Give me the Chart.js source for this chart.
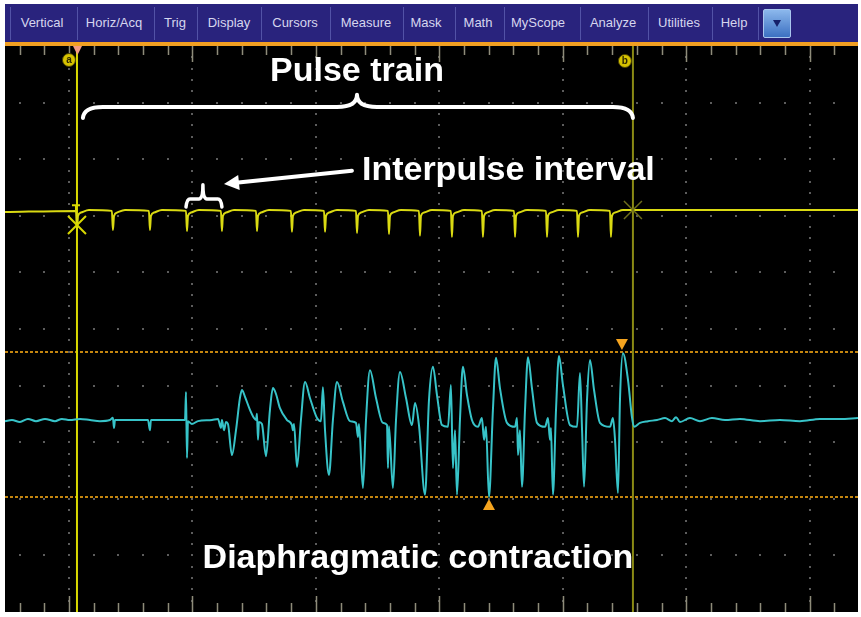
<!DOCTYPE html>
<html>
<head>
<meta charset="utf-8">
<script src="https://cdn.jsdelivr.net/npm/chart.js@4.4.1/dist/chart.umd.min.js"></script>
<style>
  html, body { margin: 0; padding: 0; background: #fff; }
  #wrap { position: relative; width: 861px; height: 617px; overflow: hidden; }
  #scope { position: absolute; left: 0; top: 0; }
  #menu { position: absolute; left: 5px; top: 4px; width: 853px; height: 38px; background: #29237d;
          font-family: "Liberation Sans", Arial, sans-serif; font-size: 13px; color: #d6d6ee; }
  #menu .item { position: absolute; top: 0; line-height: 38px; transform: translateX(-50%); white-space: nowrap; }
  #menu .sep { position: absolute; top: 3px; width: 1px; height: 33px; background: #5252a6; }
  #menu .btn { position: absolute; left: 758px; top: 5px; width: 28px; height: 29px; border: 1px solid #a9c6ee;
               border-radius: 2px; background: linear-gradient(#8cb8ec, #3c70c2); box-sizing: border-box; }
  #menu .btn::after { content: ""; position: absolute; left: 9px; top: 10px; border-left: 4px solid transparent;
                      border-right: 4px solid transparent; border-top: 7px solid #16206a; }
  #orange { position: absolute; left: 5px; top: 42px; width: 853px; height: 4px; background: #f19f22; }
</style>
</head>
<body>
<div id="wrap">
  <canvas id="scope" width="861" height="617"></canvas>
  <div id="menu"></div>
  <div id="orange"></div>
</div>
<script>
// time in ms (100 ms / division), levels in 0.1 division from each channel's baseline
const CURSOR_A = 6.5;
const CURSOR_B = 456.8;
const HBAR_TOP = 12.0;
const HBAR_BOTTOM = -13.6;

// stimulation channel (yellow)
const yellowTime = [
  -51.8,
  5.7, 6.5, 7.3, 9.7, 16.2,
  34.8, 35.6, 36.5, 38.9, 45.4,
  64.8, 65.6, 66.4, 68.9, 75.3,
  94.8, 95.6, 96.4, 98.8, 105.3,
  123.1, 123.9, 124.7, 127.2, 133.7,
  151.5, 152.3, 153.1, 155.5, 162.0,
  179.8, 180.6, 181.4, 183.9, 190.4,
  206.6, 207.4, 208.2, 210.6, 217.1,
  232.5, 233.3, 234.1, 236.5, 243.0,
  258.4, 259.2, 260.0, 262.4, 268.9,
  283.5, 284.3, 285.1, 287.6, 294.0,
  309.4, 310.2, 311.0, 313.5, 320.0,
  334.5, 335.3, 336.2, 338.6, 345.1,
  360.5, 361.3, 362.1, 364.5, 371.0,
  386.4, 387.2, 388.0, 390.4, 396.9,
  411.5, 412.3, 413.1, 415.5, 422.0,
  438.2, 439.0, 439.8, 442.3, 448.7,
  456.8, 639.1
];
const yellowLevel = [
  0,
  0.2, -3.2, -0.7, -0.1, 0.35,
  0.2, -3.2, -0.7, -0.1, 0.35,
  0.2, -3.2, -0.7, -0.1, 0.35,
  0.2, -3.4, -0.7, -0.1, 0.35,
  0.2, -3.4, -0.7, -0.1, 0.35,
  0.2, -3.4, -0.7, -0.1, 0.35,
  0.2, -3.5, -0.7, -0.1, 0.35,
  0.2, -3.5, -0.7, -0.1, 0.35,
  0.2, -3.7, -0.7, -0.1, 0.35,
  0.2, -3.9, -0.7, -0.1, 0.35,
  0.2, -4.2, -0.7, -0.1, 0.35,
  0.2, -4.4, -0.7, -0.1, 0.35,
  0.2, -4.4, -0.7, -0.1, 0.35,
  0.2, -4.4, -0.7, -0.1, 0.35,
  0.2, -4.4, -0.7, -0.1, 0.35,
  0.2, -4.4, -0.7, -0.1, 0.35,
  0.2, -4.4, -0.7, -0.1, 0.35,
  0.35, 0.35
];

// diaphragm EMG channel (cyan)
const cyanTime = [
  -51.8, -46.2, -39.7, -33.2, -26.7, -19.4, -11.3, -5.7, 0.8, 8.9,
  17.0, 25.1, 33.2, 35.6, 36.5, 37.3, 49.4, 64.0, 65.6, 66.4,
  81.8, 94.0, 94.8, 95.6, 96.4, 99.6, 104.5, 115.8, 120.7, 123.1,
  123.9, 125.6, 127.2, 128.8, 132.0, 135.3, 138.5, 140.1, 142.6, 146.6,
  149.9, 151.5, 152.3, 153.1, 153.9, 156.3, 159.6, 162.8, 165.2, 167.7,
  170.9, 176.6, 180.6, 181.4, 182.3, 184.7, 187.9, 191.2, 195.2, 200.9,
  204.1, 205.7, 207.4, 210.6, 213.8, 217.1, 221.9, 227.6, 232.5, 234.1,
  234.9, 238.1, 240.6, 243.8, 248.7, 254.3, 257.6, 258.4, 259.2, 262.4,
  264.9, 268.1, 273.0, 277.8, 280.3, 283.5, 288.4, 291.6, 294.8, 298.1,
  302.1, 307.0, 309.4, 311.0, 312.7, 314.3, 316.7, 319.1, 322.4, 326.4,
  331.3, 334.5, 336.2, 337.8, 340.2, 343.4, 345.9, 349.1, 354.8, 361.3,
  362.9, 363.7, 365.3, 366.9, 369.4, 371.8, 375.0, 379.1, 385.6, 388.0,
  389.6, 390.4, 392.0, 394.5, 396.9, 400.1, 405.8, 411.5, 413.9, 415.6,
  417.2, 419.6, 422.0, 425.3, 430.1, 438.2, 440.6, 442.3, 444.7, 446.3,
  448.7, 452.8, 456.0, 457.7, 462.5, 469.0, 476.3, 482.8, 488.4, 491.7,
  494.9, 503.0, 511.1, 520.8, 531.4, 543.5, 559.7, 575.9, 592.1, 608.3,
  624.5, 639.1
];
const cyanLevel = [
  -0.2, 0, -0.35, 0.2, -0.2, 0.2, -0.2, 0.2, 0, 0.2,
  0, -0.2, 0, 0.4, -1.4, 0, 0, 0, -1.8, 0,
  0, 0, 4.95, -6.7, -0.2, -0.7, -0.2, 0, 0.2, -1.4,
  0, -1.8, -0.35, -0.7, -6.2, -1.8, 3.9, 5.3, 4.1, 1.8,
  0.35, 0, 1.1, -3.5, -0.35, -0.7, -6.4, 1.8, 5.65, 4.6,
  2.1, 0, -0.9, -1.8, -0.7, -8.3, 0, 6.7, 3.9, 0.35,
  -0.2, 5.8, -1.8, -9.7, 0, 6.7, 3.2, -0.2, -0.5, -3.0,
  -0.7, -12.0, 0, 8.8, 3.9, -0.5, -0.9, -8.5, -1.1, -12.0,
  0, 8.5, 3.9, -0.9, 3.0, -0.9, -13.2, 3.5, 9.4, 4.4,
  -0.9, -1.2, 6.2, -8.5, -1.8, -13.2, 0, 9.4, 4.4, 0,
  -1.2, 0.35, -3.5, -1.2, -13.6, 1.8, 11.0, 5.65, -0.5, -1.2,
  0.35, -6.2, -1.8, -11.8, 1.8, 11.1, 5.65, -0.5, -1.2, 0.35,
  -3.5, -1.4, -13.2, 1.8, 11.3, 6.2, -0.9, -1.2, 8.3, -1.8,
  -11.8, 3.5, 10.6, 5.3, -0.5, -1.2, 0.35, -3.5, -12.9, 3.5,
  11.8, 7.1, 0.5, -1.2, -0.5, -0.2, 0, 0.35, -0.2, 0.5,
  -0.35, 0.35, -0.2, 0.35, 0, 0.2, -0.2, 0, -0.2, 0.2,
  0.2, 0.35
];

const MENU = ["Vertical", "Horiz/Acq", "Trig", "Display", "Cursors", "Measure",
              "Mask", "Math", "MyScope", "Analyze", "Utilities", "Help"];
const MENU_X = [37, 109, 170, 224, 290, 361, 421, 473, 533, 608, 674, 729];
const MENU_SEP = [5, 72, 149, 192, 256, 325, 398, 450, 499, 575, 643, 707, 753];

/* ===== MENU BAR ===== */
function buildMenu() {
  const menu = document.getElementById("menu");
  MENU_SEP.forEach(x => {
    const s = document.createElement("i");
    s.className = "sep";
    s.style.left = x + "px";
    menu.appendChild(s);
  });
  MENU.forEach((label, i) => {
    const s = document.createElement("span");
    s.className = "item";
    s.style.left = MENU_X[i] + "px";
    s.textContent = label;
    menu.appendChild(s);
  });
  const b = document.createElement("div");
  b.className = "btn";
  menu.appendChild(b);
}

/* ===== SCREEN DECORATION ===== */
const FONT = '"Liberation Sans", Arial, sans-serif';

function drawBrace(ctx, x1, x2, xm, yEnd, yLine, yTip, r) {
  ctx.beginPath();
  ctx.moveTo(x1, yEnd);
  ctx.quadraticCurveTo(x1 + 1, yLine, x1 + r, yLine);
  ctx.lineTo(xm - r, yLine);
  ctx.quadraticCurveTo(xm, yLine, xm, yTip);
  ctx.quadraticCurveTo(xm, yLine, xm + r, yLine);
  ctx.lineTo(x2 - r, yLine);
  ctx.quadraticCurveTo(x2 - 1, yLine, x2, yEnd);
  ctx.stroke();
}

function drawX(ctx, x, y, s) {
  ctx.beginPath();
  ctx.moveTo(x - s, y - s); ctx.lineTo(x + s, y + s);
  ctx.moveTo(x + s, y - s); ctx.lineTo(x - s, y + s);
  ctx.stroke();
}

function drawTri(ctx, x, yTip, h, w) {
  ctx.beginPath();
  ctx.moveTo(x, yTip);
  ctx.lineTo(x - w, yTip - h);
  ctx.lineTo(x + w, yTip - h);
  ctx.closePath();
  ctx.fill();
}

function drawBadge(ctx, x, y, letter) {
  ctx.beginPath();
  ctx.arc(x, y, 6.5, 0, Math.PI * 2);
  ctx.fillStyle = "#d6c200";
  ctx.fill();
  ctx.lineWidth = 1;
  ctx.strokeStyle = "#4a4200";
  ctx.stroke();
  ctx.fillStyle = "#2c2600";
  ctx.font = "bold 10px " + FONT;
  ctx.textAlign = "center";
  ctx.textBaseline = "middle";
  ctx.fillText(letter, x, y + 0.5);
}

const scopePlugin = {
  id: "scope",
  beforeDraw(chart) {
    const { ctx, chartArea: a, scales } = chart;
    const xs = scales.x, yg = scales.yG;
    ctx.save();
    ctx.fillStyle = "#ffffff";
    ctx.fillRect(0, 0, chart.width, chart.height);
    ctx.fillStyle = "#000000";
    ctx.fillRect(a.left, a.top, a.right - a.left, a.bottom - a.top);

    // graticule dots
    ctx.fillStyle = "#5c5c5c";
    for (let d = 0; d <= 600; d += 100) {
      const px = Math.round(xs.getPixelForValue(d));
      for (let k = -24; k <= 24; k++) {
        const py = Math.round(yg.getPixelForValue(k / 5));
        ctx.fillRect(px - 1, py - 1, 2, 2);
      }
    }
    for (let r = -4; r <= 4; r++) {
      const py = Math.round(yg.getPixelForValue(r));
      for (let t = -40; t <= 640; t += 20) {
        const px = Math.round(xs.getPixelForValue(t));
        if (px < a.left || px > a.right) continue;
        ctx.fillRect(px - 1, py - 1, 2, 2);
      }
    }

    // edge ticks
    ctx.strokeStyle = "#8e8c7a";
    ctx.lineWidth = 1.5;
    ctx.beginPath();
    for (let t = -40; t <= 640; t += 20) {
      const px = Math.round(xs.getPixelForValue(t)) + 0.5;
      if (px < a.left || px > a.right) continue;
      const len = t % 100 === 0 ? 16 : 9;
      ctx.moveTo(px, a.top); ctx.lineTo(px, a.top + len);
      ctx.moveTo(px, a.bottom); ctx.lineTo(px, a.bottom - len);
    }
    ctx.stroke();
    ctx.restore();
  },

  beforeDatasetsDraw(chart) {
    const { ctx, chartArea: a, scales } = chart;
    const xs = scales.x, yc = scales.yC;
    ctx.save();
    // horizontal cursors
    ctx.strokeStyle = "#c4860f";
    ctx.lineWidth = 2;
    ctx.setLineDash([3, 2]);
    [HBAR_TOP, HBAR_BOTTOM].forEach(v => {
      const py = Math.round(yc.getPixelForValue(v));
      ctx.beginPath();
      ctx.moveTo(a.left, py); ctx.lineTo(a.right, py);
      ctx.stroke();
    });
    ctx.setLineDash([]);
    // vertical cursors
    const pa = xs.getPixelForValue(CURSOR_A);
    const pb = xs.getPixelForValue(CURSOR_B);
    ctx.strokeStyle = "#8a8a14";
    ctx.beginPath(); ctx.moveTo(pb, a.top); ctx.lineTo(pb, a.bottom); ctx.stroke();
    ctx.strokeStyle = "#d8d800";
    ctx.beginPath(); ctx.moveTo(pa, a.top); ctx.lineTo(pa, a.bottom); ctx.stroke();
    ctx.restore();
  },

  afterDatasetsDraw(chart) {
    const { ctx, chartArea: a, scales } = chart;
    const xs = scales.x, yy = scales.yY, yc = scales.yC;
    const X = v => xs.getPixelForValue(v);
    const YY = v => yy.getPixelForValue(v);
    const YC = v => yc.getPixelForValue(v);
    const pa = X(CURSOR_A), pb = X(CURSOR_B);
    ctx.save();

    // cursor badges and top marker
    ctx.fillStyle = "#f39a84";
    ctx.beginPath();
    ctx.moveTo(pa - 4, a.top); ctx.lineTo(pa + 5, a.top); ctx.lineTo(pa + 0.5, a.top + 9);
    ctx.closePath(); ctx.fill();
    drawBadge(ctx, pa - 8, a.top + 14, "a");
    drawBadge(ctx, pb - 8, a.top + 15, "b");

    // trigger marker and crosses on the yellow trace
    ctx.strokeStyle = "#d8d800";
    ctx.lineWidth = 2;
    ctx.beginPath();
    ctx.moveTo(pa - 5, YY(1.2)); ctx.lineTo(pa + 3, YY(1.2));
    ctx.moveTo(pa - 1, YY(1.2)); ctx.lineTo(pa - 1, YY(0));
    ctx.stroke();
    drawX(ctx, pa, YY(-2.3), 9);
    ctx.strokeStyle = "#6e6e1c";
    ctx.lineWidth = 1.5;
    drawX(ctx, pb, YY(0.35), 9);

    // max / min markers on the cyan trace
    let iMax = 0, iMin = 0;
    cyanLevel.forEach((v, i) => {
      if (v >= cyanLevel[iMax]) iMax = i;
      if (v <= cyanLevel[iMin]) iMin = i;
    });
    ctx.fillStyle = "#f5a41f";
    drawTri(ctx, X(cyanTime[iMax]) - 1, YC(HBAR_TOP) - 2, 11, 6);
    drawTri(ctx, X(cyanTime[iMin]), YC(HBAR_BOTTOM) + 2, -11, 6);

    // annotations
    ctx.strokeStyle = "#ffffff";
    ctx.fillStyle = "#ffffff";
    ctx.lineWidth = 4;
    ctx.lineCap = "round";
    ctx.lineJoin = "round";
    drawBrace(ctx, X(11.3), X(CURSOR_B), X(233.3), YY(16.6), YY(18.55), YY(20.7), 20);
    ctx.lineWidth = 3.5;
    drawBrace(ctx, X(94.8), X(123.9), X(108.5), YY(0.9), YY(2.3), YY(4.8), 4);

    // arrow
    const tx = X(229.2), ty = YY(7.3), hx = X(125.6), hy = YY(4.95);
    const ang = Math.atan2(hy - ty, hx - tx);
    ctx.lineWidth = 4;
    ctx.beginPath();
    ctx.moveTo(tx, ty);
    ctx.lineTo(hx - 12 * Math.cos(ang), hy - 12 * Math.sin(ang));
    ctx.stroke();
    ctx.beginPath();
    ctx.moveTo(hx, hy);
    ctx.lineTo(hx - 15 * Math.cos(ang) + 7.5 * Math.sin(ang), hy - 15 * Math.sin(ang) - 7.5 * Math.cos(ang));
    ctx.lineTo(hx - 15 * Math.cos(ang) - 7.5 * Math.sin(ang), hy - 15 * Math.sin(ang) + 7.5 * Math.cos(ang));
    ctx.closePath();
    ctx.fill();

    ctx.font = "bold 34px " + FONT;
    ctx.textBaseline = "alphabetic";
    ctx.textAlign = "center";
    ctx.fillText("Pulse train", X(233.3), YY(23.1));
    ctx.textAlign = "left";
    ctx.fillText("Interpulse interval", X(237.3), YY(5.65));
    ctx.textAlign = "center";
    ctx.fillText("Diaphragmatic contraction", X(282.7), YC(-26.1));
    ctx.restore();
  }
};

/* ===== CHART ===== */
function renderScope() {
  const canvas = document.getElementById("scope");
  new Chart(canvas, {
    type: "line",
    data: {
      datasets: [
        {
          label: "Stimulus",
          data: yellowTime.map((t, i) => ({ x: t, y: yellowLevel[i] })),
          yAxisID: "yY",
          borderColor: "#dada12",
          borderWidth: 2,
          pointRadius: 0,
          cubicInterpolationMode: "monotone"
        },
        {
          label: "Diaphragm",
          data: cyanTime.map((t, i) => ({ x: t, y: cyanLevel[i] })),
          yAxisID: "yC",
          borderColor: "#37c3c8",
          borderWidth: 2,
          pointRadius: 0,
          cubicInterpolationMode: "monotone"
        }
      ]
    },
    options: {
      responsive: false,
      animation: false,
      layout: { padding: { left: 5, right: 3, top: 46, bottom: 5 } },
      plugins: { legend: { display: false }, tooltip: { enabled: false } },
      scales: {
        x: { type: "linear", min: -51.8, max: 639.1, display: false },
        yY: { type: "linear", min: -70.67, max: 29.33, display: false },
        yC: { type: "linear", min: -33.92, max: 66.08, display: false },
        yG: { type: "linear", min: -5, max: 5, display: false }
      }
    },
    plugins: [scopePlugin]
  });
}

document.addEventListener("DOMContentLoaded", () => {
  buildMenu();
  renderScope();
});
</script>
</body>
</html>
